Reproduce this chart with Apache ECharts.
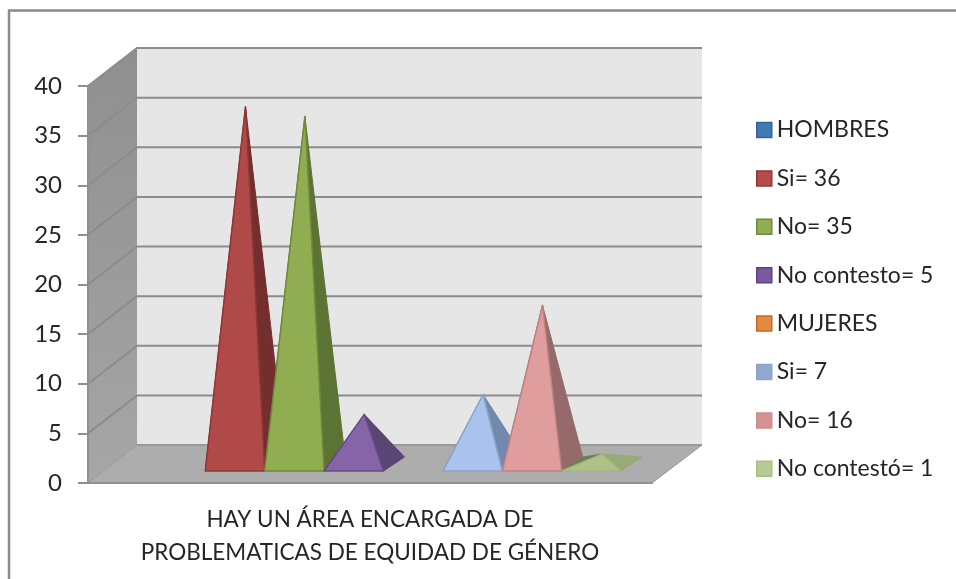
<!DOCTYPE html>
<html>
<head>
<meta charset="utf-8">
<style>html,body{margin:0;padding:0;background:#fff}#chart{width:956px;height:579px}</style>
<script src="https://cdn.jsdelivr.net/npm/echarts@6/dist/echarts.min.js"></script>
</head>
<body>
<div id="chart"></div>
<script>
// Survey answers, grouped as men / women
const categoryLabels = ['HAY UN ÁREA ENCARGADA DE\nPROBLEMATICAS DE EQUIDAD DE GÉNERO'];
const seriesNames = ['HOMBRES', 'Si= 36', 'No= 35', 'No contesto= 5', 'MUJERES', 'Si= 7', 'No= 16', 'No contestó= 1'];
const seriesValues = [0, 36, 35, 5, 0, 7, 16, 1];
const wallTicks = [5, 10, 15, 20, 25, 30, 35, 40];

// Face colours: front, right side, left side, outline
const frontColors = ['#3f70ab', '#b04a48', '#90ad52', '#8564a7', '#e0863c', '#a9c2ee', '#e09d9d', '#aec288'];
const sideColors = ['#2c5080', '#742e2e', '#5c7433', '#5a4575', '#a8622a', '#7189ac', '#966a6a', '#96ab78'];
const leftColors = ['#2c5080', '#742e2e', '#5c7433', '#5a4575', '#a8622a', '#7189ac', '#966a6a', '#6b8050'];
const edgeColors = ['#3a659a', '#8f3735', '#6f8a3c', '#654a87', '#b96d2d', '#8da3c9', '#bd8383', '#a3b77f'];
const legendFills = ['#4379b0', '#b54c4a', '#93ad55', '#7a5a9c', '#e58a3e', '#8fa8d0', '#d59292', '#b5cb91'];
const legendEdges = ['#36659a', '#8f3735', '#6f8a3c', '#5d4380', '#b96d2d', '#8da3c9', '#c88d8d', '#a9bf88'];

// Oblique projection of the plot box
const DEPTH_X = 49;
const DEPTH_Y = 38;
const BASE_NEAR = 0.316;
const BASE_FAR = 0.684;
const BASE_SKEW_X = 57;
const BASE_SHIFT_X = 13.5;
const SLOT_FILL = 475.2 / 564;

function renderWalls(params, api) {
  const sys = params.coordSys;
  const x0 = sys.x, x1 = sys.x + sys.width;
  const y0 = api.coord([0, 0])[1];
  const top = api.coord([0, 40])[1];
  const lineStyle = { stroke: '#8c8c8c', lineWidth: 2, fill: null };
  const children = [
    { type: 'polygon', shape: { points: [[x0 + DEPTH_X, top - DEPTH_Y], [x1 + DEPTH_X + 1, top - DEPTH_Y], [x1 + DEPTH_X + 1, y0 - DEPTH_Y], [x0 + DEPTH_X, y0 - DEPTH_Y]] }, style: { fill: '#e6e6e6' } },
    { type: 'polygon', shape: { points: [[x0, top], [x0 + DEPTH_X, top - DEPTH_Y], [x0 + DEPTH_X, y0 - DEPTH_Y], [x0, y0]] },
      style: { fill: new echarts.graphic.LinearGradient(0, 0, 0, 1, [{ offset: 0, color: '#8f8f8f' }, { offset: 1, color: '#a6a6a6' }]) } },
    { type: 'polygon', shape: { points: [[x0, y0], [x1, y0], [x1 + DEPTH_X + 1, y0 - DEPTH_Y], [x0 + DEPTH_X, y0 - DEPTH_Y]] }, style: { fill: '#adadad', stroke: '#999999', lineWidth: 1 } },
    { type: 'line', shape: { x1: x0 + DEPTH_X, y1: y0 - DEPTH_Y, x2: x1 + DEPTH_X + 1, y2: y0 - DEPTH_Y }, style: { stroke: '#999999', lineWidth: 2 } }
  ];
  wallTicks.forEach(function (v) {
    const y = api.coord([0, v])[1];
    children.push({ type: 'polyline', shape: { points: [[x0, y], [x0 + DEPTH_X, y - DEPTH_Y], [x1 + DEPTH_X + 1, y - DEPTH_Y]] }, style: lineStyle });
  });
  return { type: 'group', children: children };
}

function renderPyramid(index) {
  return function (params, api) {
    const value = api.value(1);
    if (!value) return null;
    const center = api.coord([0, 0]);
    const slot = api.size([1, 0])[0] * SLOT_FILL / seriesNames.length;
    const left = center[0] + (index - seriesNames.length / 2) * slot + BASE_SHIFT_X;
    const right = left + slot;
    const project = function (x, depth, v) {
      return [x + (depth - BASE_NEAR) * BASE_SKEW_X, api.coord([0, v])[1] - depth * DEPTH_Y];
    };
    const fl = project(left, BASE_NEAR, 0);
    const fr = project(right, BASE_NEAR, 0);
    const bl = project(left, BASE_FAR, 0);
    const br = project(right, BASE_FAR, 0);
    const apex = project((left + right) / 2, 0.5, value);
    return {
      type: 'group',
      children: [
        { type: 'polygon', shape: { points: [fl, bl, apex] }, style: { fill: leftColors[index], stroke: leftColors[index], lineWidth: 1 } },
        { type: 'polygon', shape: { points: [fr, br, apex] }, style: { fill: sideColors[index], stroke: sideColors[index], lineWidth: 1 } },
        { type: 'polygon', shape: { points: [fl, fr, apex] }, style: { fill: frontColors[index], stroke: edgeColors[index], lineWidth: 1.5, lineJoin: 'round' } }
      ]
    };
  };
}

const textColor = '#262626';
const chart = echarts.init(document.getElementById('chart'), null, { renderer: 'canvas' });
chart.setOption({
  animation: false,
  backgroundColor: '#ffffff',
  textStyle: { fontFamily: 'Lato' },
  grid: { left: 88, right: 304, top: 86, bottom: 96 },
  graphic: [{
    type: 'polyline',
    shape: { points: [[9, 579], [9, 10.5], [956, 10.5]] },
    style: { stroke: '#8a8a8a', lineWidth: 2.5, fill: null }
  }],
  legend: {
    orient: 'vertical',
    left: 751,
    top: 113,
    itemWidth: 15,
    itemHeight: 15,
    itemGap: 24.4,
    selectedMode: false,
    textStyle: { fontFamily: 'Lato', fontSize: 23, color: textColor, lineHeight: 24 },
    data: seriesNames.map(function (name, i) {
      return { name: name, icon: 'rect', itemStyle: { color: legendFills[i], borderColor: legendEdges[i], borderWidth: 1.5 } };
    })
  },
  xAxis: {
    type: 'category',
    data: categoryLabels,
    axisLine: { lineStyle: { color: '#909090', width: 2 } },
    axisTick: { length: 7, lineStyle: { color: '#909090', width: 2 } },
    axisLabel: { margin: 20, fontFamily: 'Lato', fontSize: 22.5, lineHeight: 33, color: textColor, interval: 0 }
  },
  yAxis: {
    type: 'value',
    min: 0,
    max: 40,
    interval: 5,
    splitLine: { show: false },
    axisLine: { show: true, lineStyle: { color: '#909090', width: 2 } },
    axisTick: { show: true, length: 10, lineStyle: { color: '#909090', width: 2 } },
    axisLabel: { margin: 26, fontFamily: 'Lato', fontSize: 24, color: textColor, padding: [3, 0, 0, 0] }
  },
  series: [{
    type: 'custom',
    name: 'walls',
    silent: true,
    z: 0,
    clip: false,
    data: [[0, 0]],
    encode: { x: 0, y: 1 },
    renderItem: renderWalls
  }].concat(seriesNames.map(function (name, i) {
    return {
      type: 'custom',
      name: name,
      silent: true,
      z: 2 + i,
      clip: false,
      itemStyle: { color: legendFills[i] },
      data: [[0, seriesValues[i]]],
      encode: { x: 0, y: 1 },
      renderItem: renderPyramid(i)
    };
  }))
});
</script>
</body>
</html>
